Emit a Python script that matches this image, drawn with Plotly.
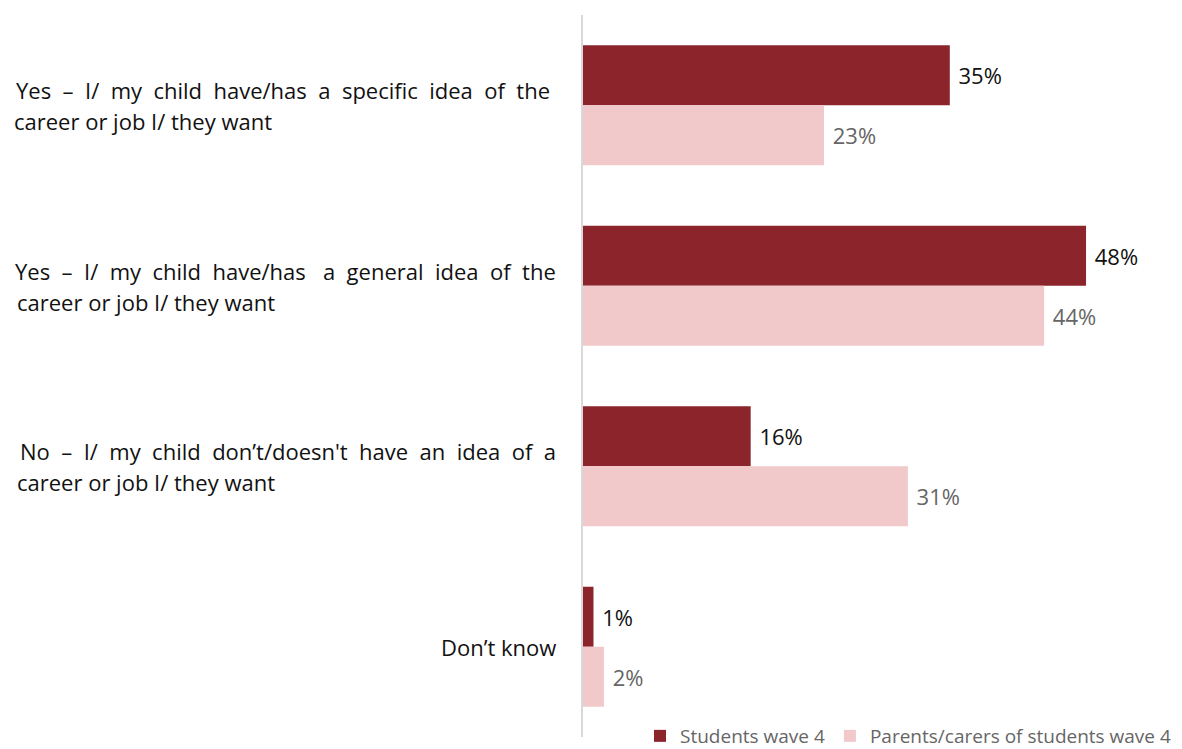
import plotly.graph_objects as go

categories = ["specific", "general", "no_idea", "dont_know"]
label_line1 = [
    "Yes  –  I/  my  child  have/has  a  specific  idea  of  the",
    "Yes  –  I/  my  child  have/has   a  general  idea  of  the",
    "No  –  I/  my  child  don’t/doesn't  have  an  idea  of  a",
    "Don’t know",
]
label_line2 = [
    "career or job I/ they want",
    "career or job I/ they want",
    "career or job I/ they want",
    "",
]
students = [35, 48, 16, 1]
parents = [23, 44, 31, 2]
series_names = ["Students wave 4", "Parents/carers of students wave 4"]

DARK = "#8B252B"
LIGHT = "#F2C9CB"
FONT = "Open Sans"

# page has an 8px body margin; figure coordinates = screenshot - 8
OFF = 8
W, H = 1182 - OFF, 749 - OFF
ml = 583 - OFF
mt = 15 - OFF
plot_bottom = 737 - OFF
mb = H - plot_bottom
pw = 579
mr = W - ml - pw
ph = plot_bottom - mt
px_per_pct = 10.48
xmax = pw / px_per_pct

fig = go.Figure()
fig.add_trace(go.Bar(
    y=categories, x=students, orientation="h", name=series_names[0],
    marker=dict(color=DARK, line=dict(width=0)),
    text=[f" {v}%" for v in students], textposition="outside",
    textfont=dict(family=FONT, size=22, color="#111111"),
    cliponaxis=False,
))
fig.add_trace(go.Bar(
    y=categories, x=parents, orientation="h", name=series_names[1],
    marker=dict(color=LIGHT, line=dict(width=0)),
    text=[f" {v}%" for v in parents], textposition="outside",
    textfont=dict(family=FONT, size=22, color="#666666"),
    cliponaxis=False,
))

right_edges = [552, 558, 558, 558]
left_edges = [12, 15, 15, 15]
annotations = []
for cat, l1, l2, re_, le_ in zip(categories, label_line1, label_line2, right_edges, left_edges):
    if l2:
        annotations.append(dict(
            xref="paper", yref="y", x=(re_ - OFF - ml) / pw, y=cat, yshift=15,
            text=l1, showarrow=False, xanchor="right", yanchor="middle",
            font=dict(family=FONT, size=22, color="#111111"),
        ))
        annotations.append(dict(
            xref="paper", yref="y", x=(le_ - OFF - ml) / pw, y=cat, yshift=-16,
            text=l2, showarrow=False, xanchor="left", yanchor="middle",
            font=dict(family=FONT, size=22, color="#111111"),
        ))
    else:
        annotations.append(dict(
            xref="paper", yref="y", x=(re_ - OFF - ml) / pw, y=cat, yshift=0,
            text=l1, showarrow=False, xanchor="right", yanchor="middle",
            font=dict(family=FONT, size=22, color="#111111"),
        ))

fig.update_layout(
    width=W, height=H,
    margin=dict(l=ml, r=mr, t=mt, b=mb, autoexpand=False),
    paper_bgcolor="white", plot_bgcolor="white",
    barmode="group", bargap=0.335, bargroupgap=0,
    showlegend=True,
    legend=dict(
        orientation="h", xanchor="right", yanchor="middle",
        x=(1176 - OFF - ml) / pw, y=-(736 - OFF - plot_bottom) / ph,
        font=dict(family=FONT, size=19, color="#666666"),
        itemwidth=30, traceorder="normal",
        bgcolor="rgba(0,0,0,0)",
    ),
    xaxis=dict(range=[0, xmax], showgrid=False, zeroline=False,
               showticklabels=False, showline=False, fixedrange=True),
    yaxis=dict(autorange="reversed", showgrid=False, zeroline=False,
               showticklabels=False, showline=True, linecolor="#D9D9D9",
               linewidth=2, ticks=""),
    annotations=annotations,
    font=dict(family=FONT),
)

fig.write_html("out.html")
